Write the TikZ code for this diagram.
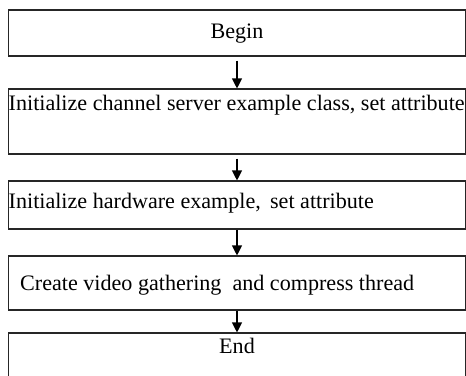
\documentclass[tikz,border=0pt]{standalone}
\usepackage{fontspec}
\setmainfont{Liberation Serif}
\usetikzlibrary{arrows.meta}
\begin{document}
\begin{tikzpicture}[x=1pt,y=-1pt]
\tikzstyle{stepbox} = [draw=black!85,line width=1.1pt,rectangle,inner sep=0pt,minimum width=457pt]
\tikzstyle{steptext} = [font=\fontsize{22.1}{26}\selectfont,inner sep=0pt]
\tikzstyle{flow} = [line width=1.1pt,-{Triangle[length=10pt,width=10pt]}]
\useasboundingbox (0,0) rectangle (466,375);
  %boxes
  \node[stepbox,minimum height=46pt] (begin) at (237,33) {};
  \node[stepbox,minimum height=65pt] (chan) at (237,121.5) {};
  \node[stepbox,minimum height=48pt] (hw) at (237,205) {};
  \node[stepbox,minimum height=54pt] (thread) at (237,283) {};
  \node[stepbox,minimum height=60pt] (end) at (237,363) {};
  %texts
  \node[steptext,anchor=base] (begintext) at (237,38) {Begin};
  \node[steptext,anchor=base west] (chantext) at (8.5,110) {Initialize channel server example class, set attribute};
  \node[steptext,anchor=base west] (hwtext) at (8.5,208.5) {Initialize hardware example,\, set attribute};
  \node[steptext,anchor=base west] (threadtext) at (20,290) {Create video gathering\ \ and compress thread};
  \node[steptext,anchor=base] (endtext) at (237,353) {End};
  %arrows
  \draw[flow,shorten <=4pt] (begin) -- (chan);
  \draw[flow,shorten <=4pt] (chan) -- (hw);
  \draw[flow] (hw) -- (thread);
  \draw[flow] (thread) -- (end);
\end{tikzpicture}
\end{document}
